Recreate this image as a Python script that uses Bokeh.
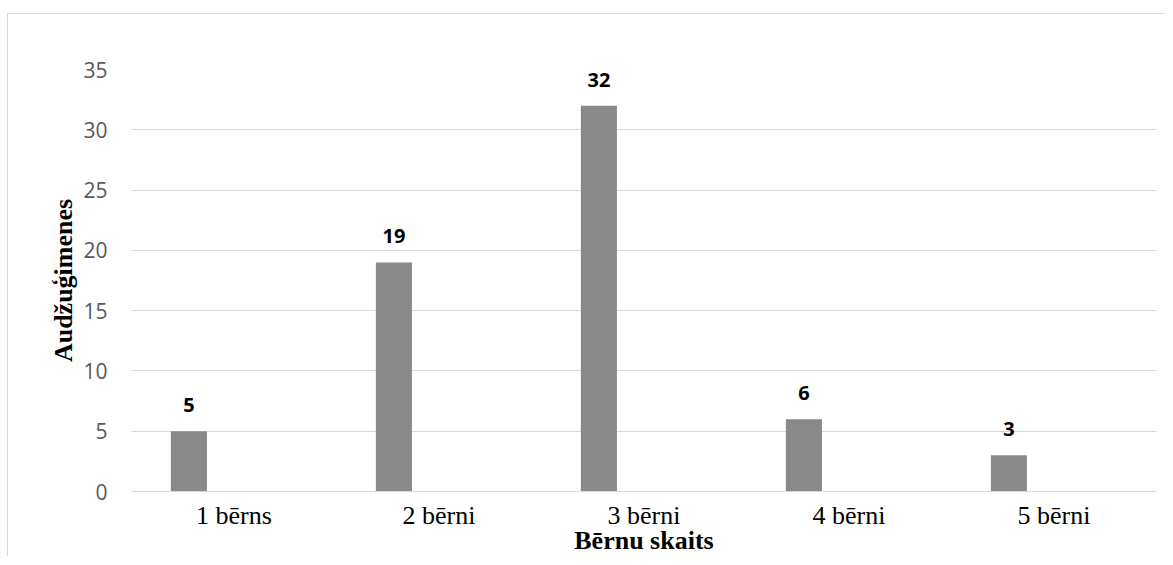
from bokeh.plotting import figure
from bokeh.models import ColumnDataSource, FactorRange, Range1d, FixedTicker, LabelSet
from bokeh.transform import dodge
from bokeh.core.properties import value
from bokeh.embed import file_html
from bokeh.resources import INLINE

categories = ["1 bērns", "2 bērni", "3 bērni", "4 bērni", "5 bērni"]
values = [5, 19, 32, 6, 3]
y_ticks = [0, 5, 10, 15, 20, 25, 30, 35]
x_title = "Bērnu skaits"
y_title = "Audžuģimenes"

source = ColumnDataSource(data=dict(cat=categories, val=values, lbl=[str(v) for v in values]))

p = figure(width=1157, height=543, x_range=FactorRange(*categories, range_padding=0),
           y_range=Range1d(0, 35), output_backend="svg", toolbar_location=None,
           min_border_left=123, min_border_right=9, min_border_top=55, min_border_bottom=65)
p.styles = {"margin-left": "7px", "margin-top": "13px",
            "border-top": "1px solid #d9d9d9", "border-left": "1px solid #d9d9d9"}

p.vbar(x=dodge("cat", -0.22, range=p.x_range), top="val", width=0.176, source=source,
       fill_color="#898989", line_color=None)

labels = LabelSet(x=dodge("cat", -0.22, range=p.x_range), y="val", text="lbl", source=source,
                  text_align="center", text_baseline="alphabetic", y_offset=19,
                  text_font=value("Open Sans"), text_font_style="bold", text_font_size="20px",
                  text_color="#000000")
p.add_layout(labels)

p.outline_line_color = None
p.xgrid.grid_line_color = None
p.ygrid.grid_line_color = "#d9d9d9"
p.ygrid.grid_line_width = 1

p.yaxis.ticker = FixedTicker(ticks=y_ticks)
p.yaxis.axis_line_color = None
p.yaxis.major_tick_line_color = None
p.yaxis.minor_tick_line_color = None
p.yaxis.major_label_standoff = 18
p.yaxis.major_label_text_font = "Open Sans"
p.yaxis.major_label_text_font_size = "21px"
p.yaxis.major_label_text_color = "#595959"
p.yaxis.axis_label = y_title
p.yaxis.axis_label_text_font = "Liberation Serif"
p.yaxis.axis_label_text_font_style = "bold"
p.yaxis.axis_label_text_font_size = "26px"
p.yaxis.axis_label_text_color = "#000000"
p.yaxis.axis_label_standoff = 2

p.xaxis.axis_line_color = "#d9d9d9"
p.xaxis.major_tick_line_color = None
p.xaxis.minor_tick_line_color = None
p.xaxis.major_label_standoff = 3
p.xaxis.major_label_text_font = "Liberation Serif"
p.xaxis.major_label_text_font_size = "26px"
p.xaxis.major_label_text_color = "#000000"
p.xaxis.axis_label = x_title
p.xaxis.axis_label_text_font = "Liberation Serif"
p.xaxis.axis_label_text_font_style = "bold"
p.xaxis.axis_label_text_font_size = "26px"
p.xaxis.axis_label_text_color = "#000000"
p.xaxis.axis_label_standoff = -7

open("out.html", "w").write(file_html(p, INLINE))
